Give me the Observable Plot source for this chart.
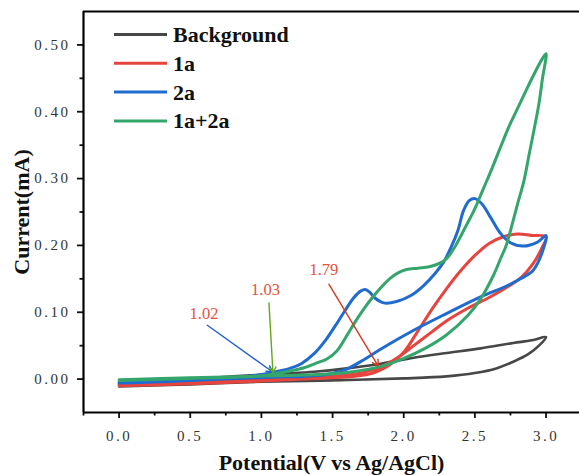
<!DOCTYPE html>
<html><head><meta charset="utf-8">
<script src="https://cdn.jsdelivr.net/npm/d3@7"></script>
<script src="https://cdn.jsdelivr.net/npm/@observablehq/plot@0.6"></script>
<style>
body{margin:0;background:#fff;}
#chart{width:579px;height:475px;}
#chart svg text{font-family:'Liberation Serif','DejaVu Serif',serif;}
#chart svg g[aria-label="x-axis tick label"] text,
#chart svg g[aria-label="y-axis tick label"] text{letter-spacing:2.5px;}
#chart svg g[aria-label="annotation"] text{letter-spacing:1.5px;}
</style>
</head><body><div id="chart"></div>
<script>
// ---- data ----
const seriesNames = ["Background", "1a", "2a", "1a+2a"];
const seriesColors = ["#474747", "#e6443d", "#1f6bd0", "#35a66b"];

const bgX = [0, 0.5, 1.0, 1.5, 2.0, 2.3, 2.5, 2.65, 2.77, 2.88, 2.95, 3.0, 2.9, 2.77, 2.54, 2.3, 2.07, 1.84, 1.6, 1.37, 1.14, 0.8, 0.4, 0];
const bgY = [-0.011, -0.008, -0.004, -0.002, 0.001, 0.004, 0.009, 0.016, 0.026, 0.038, 0.050, 0.063, 0.058, 0.054, 0.046, 0.039, 0.032, 0.023, 0.016, 0.011, 0.008, 0.004, -0.002, -0.008];

const r1aX = [0, 0.5, 1.0, 1.3, 1.5, 1.65, 1.75, 1.82, 1.9, 2.0, 2.1, 2.2, 2.3, 2.4, 2.5, 2.6, 2.7, 2.8, 2.9, 3.0,
  2.97, 2.91, 2.83, 2.73, 2.6, 2.45, 2.3, 2.2, 2.07, 1.95, 1.84, 1.72, 1.6, 1.4, 1.1, 0.5, 0];
const r1aY = [-0.010, -0.007, -0.003, 0.000, 0.002, 0.004, 0.007, 0.012, 0.021, 0.040, 0.072, 0.105, 0.135, 0.162, 0.185, 0.203, 0.213, 0.217, 0.215, 0.213,
  0.196, 0.173, 0.153, 0.138, 0.122, 0.106, 0.087, 0.071, 0.050, 0.031, 0.018, 0.010, 0.006, 0.003, 0.001, -0.004, -0.008];

const b2aX = [0, 0.5, 0.9, 1.08, 1.2, 1.28, 1.37, 1.45, 1.52, 1.58, 1.65, 1.70, 1.73, 1.76, 1.80, 1.86, 1.95, 2.05, 2.14, 2.22, 2.28, 2.33, 2.38, 2.42, 2.46, 2.50, 2.55, 2.61, 2.68, 2.75, 2.84, 2.94, 3.0,
  2.97, 2.91, 2.82, 2.73, 2.54, 2.30, 2.07, 1.84, 1.72, 1.60, 1.49, 1.3, 1.1, 0.5, 0];
const b2aY = [-0.006, -0.002, 0.004, 0.010, 0.016, 0.023, 0.038, 0.058, 0.080, 0.100, 0.122, 0.132, 0.134, 0.130, 0.121, 0.114, 0.116, 0.125, 0.140, 0.158, 0.175, 0.196, 0.222, 0.252, 0.267, 0.270, 0.262, 0.242, 0.218, 0.204, 0.199, 0.205, 0.215,
  0.188, 0.163, 0.150, 0.140, 0.123, 0.098, 0.073, 0.045, 0.029, 0.015, 0.008, 0.004, 0.003, -0.002, -0.005];

const g12X = [0, 0.5, 1.0, 1.1, 1.2, 1.3, 1.4, 1.46, 1.53, 1.6, 1.66, 1.72, 1.78, 1.84, 1.9, 1.96, 2.02, 2.1, 2.18, 2.25, 2.3, 2.36, 2.43, 2.5, 2.56, 2.62, 2.68, 2.74, 2.8, 2.86, 2.92, 2.97, 3.0,
  2.975, 2.95, 2.92, 2.88, 2.845, 2.80, 2.76, 2.72, 2.68, 2.63, 2.54, 2.45, 2.3, 2.15, 2.0, 1.84, 1.6, 1.4, 1.1, 0.5, 0];
const g12Y = [-0.002, 0.001, 0.005, 0.008, 0.012, 0.017, 0.025, 0.030, 0.042, 0.065, 0.086, 0.105, 0.122, 0.137, 0.150, 0.159, 0.164, 0.166, 0.168, 0.173, 0.180, 0.198, 0.226, 0.255, 0.285, 0.315, 0.347, 0.378, 0.405, 0.432, 0.458, 0.478, 0.487,
  0.450, 0.412, 0.378, 0.335, 0.297, 0.262, 0.230, 0.200, 0.180, 0.155, 0.120, 0.095, 0.066, 0.046, 0.031, 0.019, 0.010, 0.007, 0.005, 0.002, -0.001];

const xDomain = [-0.25, 3.235];
const yDomain = [-0.05, 0.55];
const xTicks = [0, 0.5, 1.0, 1.5, 2.0, 2.5, 3.0];
const xMinor = [-0.25, 0.25, 0.75, 1.25, 1.75, 2.25, 2.75];
const yTicks = [0, 0.1, 0.2, 0.3, 0.4, 0.5];
const yMinor = [0.05, 0.15, 0.25, 0.35, 0.45];
const xLabel = "Potential(V vs Ag/AgCl)";
const yLabel = "Current(mA)";

const annLabels = ["1.02", "1.03", "1.79"];
const annX = [0.597, 1.029, 1.439];
const annY = [0.098, 0.134, 0.164];
const arrX1 = [0.62, 1.053, 1.474];
const arrY1 = [0.0806, 0.114, 0.142];
const arrX2 = [1.077, 1.081, 1.820];
const arrY2 = [0.0109, 0.0094, 0.0199];
const arrColors = ["#1f5fd6", "#5fa81a", "#d43a1f"];

// ---- build ----
const allX = [bgX, r1aX, b2aX, g12X];
const allY = [bgY, r1aY, b2aY, g12Y];
const lines = allX.map((xs, s) => xs.map((x, i) => ({series: seriesNames[s], x, y: allY[s][i]})));
const ann = annLabels.map((t, i) => ({t, x: annX[i], y: annY[i], x1: arrX1[i], y1: arrY1[i], x2: arrX2[i], y2: arrY2[i], c: arrColors[i]}));

const serif = "'Liberation Serif', 'DejaVu Serif', serif";

const plot = Plot.plot({
  width: 579, height: 475,
  marginLeft: 83, marginRight: 0, marginTop: 11, marginBottom: 63,
  style: {fontFamily: serif, background: "#fff", color: "#111"},
  x: {domain: xDomain},
  y: {domain: yDomain},
  marks: [
    Plot.axisX(xTicks, {tickSize: 6, tickPadding: 12, tickFormat: d3.format(".1f"), fontSize: 15, fill: "#333", strokeWidth: 1.8, label: null}),
    Plot.axisX(xMinor, {tickSize: 3.5, tickFormat: () => "", strokeWidth: 1.8, label: null}),
    Plot.axisY(yTicks, {tickSize: 6, tickPadding: 7, tickFormat: d3.format(".2f"), fontSize: 15, fill: "#333", strokeWidth: 1.8, label: null}),
    Plot.axisY(yMinor, {tickSize: 3.5, tickFormat: () => "", strokeWidth: 1.8, label: null}),
    Plot.ruleY([yDomain[0]], {stroke: "#000", strokeWidth: 2.2}),
    Plot.ruleY([yDomain[1]], {stroke: "#000", strokeWidth: 2.2}),
    Plot.ruleX([xDomain[0]], {stroke: "#000", strokeWidth: 2.2}),
    ...lines.map((d, s) => Plot.line(d, {x: "x", y: "y", stroke: seriesColors[s], strokeWidth: s === 0 ? 2.6 : 3, curve: "catmull-rom"})),
    Plot.arrow(ann, {x1: "x1", y1: "y1", x2: "x2", y2: "y2", stroke: "c", strokeWidth: 1.4, headLength: 7, bend: 0}),
    Plot.text(ann, {x: "x", y: "y", text: "t", fill: "#e8503a", fontSize: 16.5, ariaLabel: "annotation"}),
    Plot.text([xLabel], {frameAnchor: "bottom", dy: 50, lineAnchor: "middle", textAnchor: "middle", text: d => d, fontSize: 22, fontWeight: "bold", fill: "#111"}),
    Plot.text([yLabel], {frameAnchor: "left", dx: -62, rotate: -90, lineAnchor: "middle", textAnchor: "middle", text: d => d, fontSize: 22, fontWeight: "bold", fill: "#111"})
  ]
});
document.getElementById("chart").appendChild(plot);

// legend inside the frame
const lg = d3.select(plot).append("g").attr("font-family", serif).attr("font-weight", "bold").attr("font-size", 22).attr("text-anchor", "start");
seriesNames.forEach((name, i) => {
  const yy = 34.5 + i * 28.8;
  lg.append("line").attr("x1", 114).attr("x2", 167).attr("y1", yy).attr("y2", yy)
    .attr("stroke", seriesColors[i]).attr("stroke-width", 3);
  lg.append("text").attr("x", 173).attr("y", yy + 7.5).attr("fill", "#111").text(name);
});
</script>
</body></html>
